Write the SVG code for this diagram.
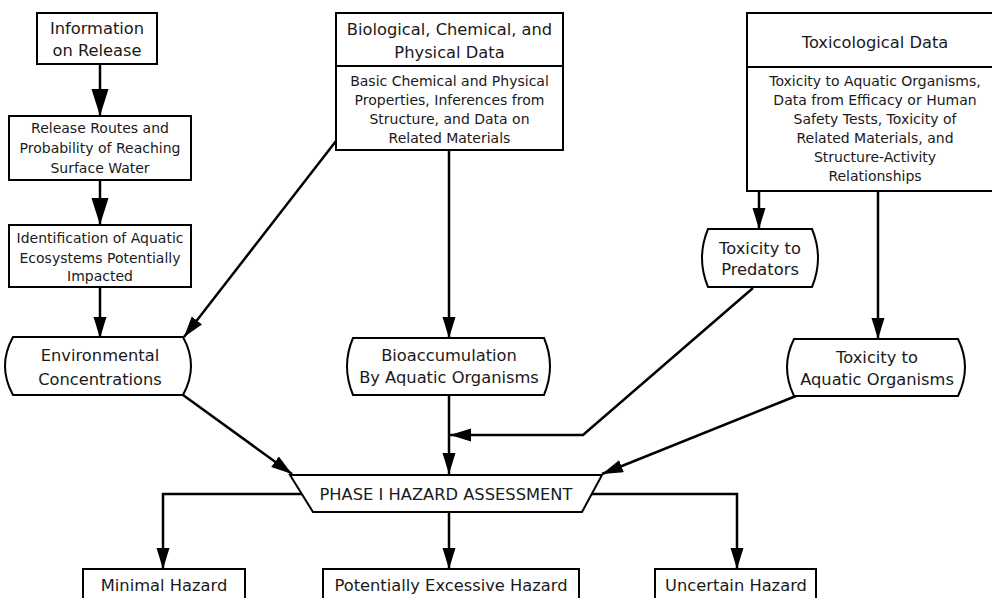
<svg xmlns="http://www.w3.org/2000/svg" width="992" height="598" viewBox="0 0 992 598">
<style>
.b{fill:#fff;stroke:#000;stroke-width:2}
.t{font-family:"DejaVu Sans",Verdana,sans-serif;fill:#1a1a1a;text-anchor:middle}
.l{font-size:16.3px}
.s{font-size:14px}
.c{fill:none;stroke:#000;stroke-width:2.5}
</style>
<defs>
<marker id="ah" markerUnits="userSpaceOnUse" markerWidth="24" markerHeight="14" refX="21" refY="6.5" orient="auto">
<path d="M0,0 L21,6.5 L0,13 Z" fill="#000"/>
</marker>
<marker id="ahL" markerUnits="userSpaceOnUse" markerWidth="30" markerHeight="18" refX="27" refY="8.5" orient="auto">
<path d="M0,0 L27,8.5 L0,17 Z" fill="#000"/>
</marker>
</defs>
<rect width="992" height="598" fill="#fff"/>
<g id="connectors">
<path class="c" d="M100,64 V116" marker-end="url(#ahL)"/>
<path class="c" d="M100,180 V225" marker-end="url(#ahL)"/>
<path class="c" d="M100,287 V338" marker-end="url(#ah)"/>
<path class="c" d="M336,141 L184,337" marker-end="url(#ah)"/>
<path class="c" d="M449,150 V338" marker-end="url(#ah)"/>
<path class="c" d="M183,395 L292,474" marker-end="url(#ah)"/>
<path class="c" d="M449,395 V474" marker-end="url(#ah)"/>
<path class="c" d="M753,288 L583,435 H450" marker-end="url(#ah)"/>
<path class="c" d="M878,191 V339" marker-end="url(#ah)"/>
<path class="c" d="M796,396 L602,474" marker-end="url(#ah)"/>
<path class="c" d="M759,191 V229" marker-end="url(#ah)"/>
<path class="c" d="M302,494 H163 V569" marker-end="url(#ah)"/>
<path class="c" d="M449,512 V569" marker-end="url(#ah)"/>
<path class="c" d="M591,494 H737 V569" marker-end="url(#ah)"/>
</g>
<g id="info-release">
<rect class="b" x="37" y="13" width="120" height="51"/>
<text class="t l" x="97" y="34">Information</text>
<text class="t l" x="97" y="56">on Release</text>
</g>
<g id="release-routes">
<rect class="b" x="9" y="116" width="182" height="64"/>
<text class="t s" x="100" y="133">Release Routes and</text>
<text class="t s" x="100" y="153">Probability of Reaching</text>
<text class="t s" x="100" y="173">Surface Water</text>
</g>
<g id="identification">
<rect class="b" x="9" y="225" width="182" height="62"/>
<text class="t s" x="100" y="243">Identification of Aquatic</text>
<text class="t s" x="100" y="263">Ecosystems Potentially</text>
<text class="t s" x="100" y="281">Impacted</text>
</g>
<g id="bio-chem-phys">
<rect class="b" x="336" y="13" width="227" height="137"/>
<line x1="336" y1="66" x2="563" y2="66" stroke="#000" stroke-width="2"/>
<text class="t l" x="449.5" y="35">Biological, Chemical, and</text>
<text class="t l" x="449.5" y="58">Physical Data</text>
<text class="t s" x="449.5" y="86">Basic Chemical and Physical</text>
<text class="t s" x="449.5" y="105">Properties, Inferences from</text>
<text class="t s" x="449.5" y="124">Structure, and Data on</text>
<text class="t s" x="449.5" y="143">Related Materials</text>
</g>
<g id="toxicological">
<rect class="b" x="747" y="13" width="260" height="178"/>
<line x1="747" y1="67" x2="1000" y2="67" stroke="#000" stroke-width="2"/>
<text class="t l" x="875" y="48">Toxicological Data</text>
<text class="t s" x="875" y="86">Toxicity to Aquatic Organisms,</text>
<text class="t s" x="875" y="105">Data from Efficacy or Human</text>
<text class="t s" x="875" y="124">Safety Tests, Toxicity of</text>
<text class="t s" x="875" y="143">Related Materials, and</text>
<text class="t s" x="875" y="162">Structure-Activity</text>
<text class="t s" x="875" y="181">Relationships</text>
</g>
<g id="predators">
<path class="b" d="M708,229 H812 Q824,258 812,287 H708 Q696,258 708,229 Z"/>
<text class="t l" x="760" y="254">Toxicity to</text>
<text class="t l" x="760" y="275">Predators</text>
</g>
<g id="env-conc">
<path class="b" d="M13,337 H183 Q199,366 183,395 H13 Q-3,366 13,337 Z"/>
<text class="t l" x="100" y="361">Environmental</text>
<text class="t l" x="100" y="385">Concentrations</text>
</g>
<g id="bioaccumulation">
<path class="b" d="M353,338 H544 Q556,366 544,395 H353 Q341,366 353,338 Z"/>
<text class="t l" x="449" y="361">Bioaccumulation</text>
<text class="t l" x="449" y="383">By Aquatic Organisms</text>
</g>
<g id="tox-aquatic">
<path class="b" d="M794,339 H958 Q972,367 958,396 H794 Q780,367 794,339 Z"/>
<text class="t l" x="877" y="363">Toxicity to</text>
<text class="t l" x="877" y="385">Aquatic Organisms</text>
</g>
<g id="phase1">
<path class="b" d="M290,475 H602 L582,512 H313 Z"/>
<text class="t l" x="446" y="500">PHASE I HAZARD ASSESSMENT</text>
</g>
<g id="minimal">
<rect class="b" x="83" y="569" width="162" height="40"/>
<text class="t l" x="164" y="591">Minimal Hazard</text>
</g>
<g id="excessive">
<rect class="b" x="323" y="569" width="256" height="40"/>
<text class="t l" x="451" y="591">Potentially Excessive Hazard</text>
</g>
<g id="uncertain">
<rect class="b" x="655" y="569" width="161" height="40"/>
<text class="t l" x="736" y="591">Uncertain Hazard</text>
</g>
</svg>
